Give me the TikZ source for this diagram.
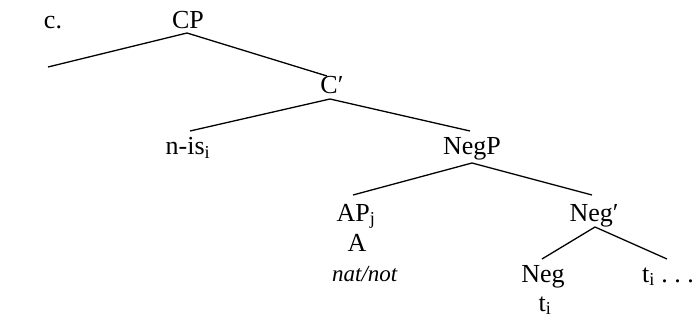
\documentclass[tikz,border=0pt]{standalone}
\usepackage{fontspec}
\setmainfont{Liberation Serif}
\begin{document}
\begin{tikzpicture}[x=1pt,y=-1pt,
  lbl/.style={anchor=base,inner sep=0pt,font=\fontsize{26}{30}\selectfont},
  branch/.style={line width=1.3pt}]
\useasboundingbox (0,0) rectangle (699,326);
% labels (positioned by baseline)
\node[lbl] (ex)    at (53,29)  {c.};
\node[lbl] (cp)    at (188,29) {CP};
\node[lbl] (cbar)  at (332,94) {C′};
\node[lbl] (nis)   at (188,155) {n-is\textsubscript{i}};
\node[lbl] (negp)  at (472,155) {NegP};
\node[lbl] (apj)   at (356,221) {AP\textsubscript{j}};
\node[lbl] (a)     at (357,251) {A};
\node[lbl,font=\fontsize{23}{27}\selectfont] (natnot) at (365,281) {\textit{nat/not}};
\node[lbl] (negbar) at (594,221) {Neg′};
\node[lbl] (neg)   at (543,282) {Neg};
\node[lbl] (ti)    at (545,311) {t\textsubscript{i}};
\node[lbl] (tidots) at (668,282) {t\textsubscript{i} .\ .\ .};
% branch end points
\coordinate (cpL) at (48,67);
\coordinate (cpB) at (187,33);
\coordinate (cbarB) at (330,99);
\coordinate (negpB) at (472,163);
\coordinate (negbarB) at (595,227);
% branches
\draw[branch] (cpL) -- (cpB) -- (327,76);
\draw[branch] (190,131) -- (cbarB) -- (470,131);
\draw[branch] (353,195) -- (negpB) -- (592,195);
\draw[branch] (542,259) -- (negbarB) -- (667,259);
\end{tikzpicture}
\end{document}
